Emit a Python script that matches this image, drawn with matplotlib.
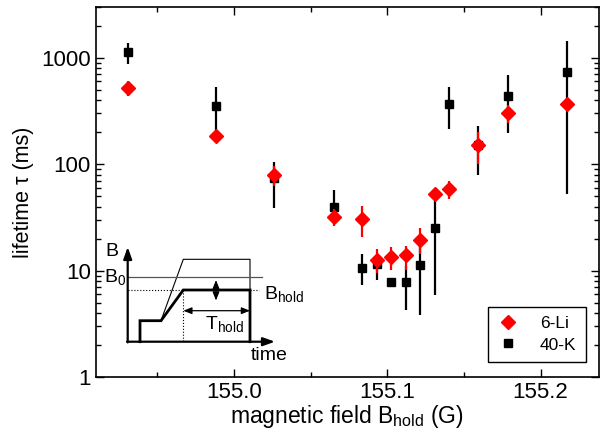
import numpy as np
import matplotlib
matplotlib.use("Agg")
import matplotlib.pyplot as plt
from matplotlib.lines import Line2D
from matplotlib.ticker import LogLocator, FixedLocator, NullFormatter

plt.rcParams['font.family'] = ['Liberation Sans', 'DejaVu Sans']
plt.rcParams['mathtext.fontset'] = 'custom'
plt.rcParams['mathtext.rm'] = 'Liberation Sans'
plt.rcParams['mathtext.it'] = 'Liberation Sans:italic'

# --- datos: 40-K (cuadrados negros) ---
k_field = [154.931, 154.988, 155.026, 155.065, 155.0835, 155.093, 155.1025,
           155.112, 155.1215, 155.131, 155.1405, 155.1595, 155.179, 155.217]
k_tau = [1130, 355, 74, 40, 10.7, 11.6, 7.9, 7.9, 11.4, 25.3, 368, 152, 441, 743]
k_lo = [880, 172, 39, 28, 7.3, 8.2, 7.9, 4.3, 3.85, 5.9, 214, 79, 196, 53]
k_hi = [1376, 537, 106, 57, 14.2, 13.6, 7.9, 11, 17, 55, 530, 230, 692, 1426]

# --- datos: 6-Li (diamantes rojos) ---
li_field = [154.931, 154.988, 155.026, 155.065, 155.0835, 155.093, 155.1025,
            155.112, 155.1215, 155.131, 155.1405, 155.1595, 155.179, 155.217]
li_tau = [521, 185, 79, 32, 30.7, 12.7, 13.5, 13.9, 19.6, 52, 59, 152, 303, 366]
li_lo = [435, 162, 62, 26, 20.8, 9.5, 10.2, 10.2, 14.2, 46.6, 47, 100, 244, 366]
li_hi = [611, 206, 96, 38, 40.4, 16, 16.7, 17, 25.3, 58, 69.4, 201, 360, 366]


def asym(y, lo, hi):
    y = np.array(y)
    return [y - np.array(lo), np.array(hi) - y]


fig = plt.figure(figsize=(6, 4.4), dpi=100)
ax = fig.add_axes([0.1595, 0.143, 0.8385, 0.841])

ax.errorbar(k_field, k_tau, yerr=asym(k_tau, k_lo, k_hi), fmt='s', color='black',
            ms=6, elinewidth=1.6, capsize=0, zorder=2)
ax.errorbar(li_field, li_tau, yerr=asym(li_tau, li_lo, li_hi), fmt='D', color='red',
            ms=7, elinewidth=1.6, capsize=0, zorder=3)

ax.set_yscale('log')
ax.set_ylim(1, 3000)
ax.set_xlim(154.9098, 155.238)
ax.xaxis.set_major_locator(FixedLocator([155.0, 155.1, 155.2]))
ax.xaxis.set_minor_locator(FixedLocator([154.95, 155.05, 155.15]))
ax.set_xticklabels(['155.0', '155.1', '155.2'])
ax.yaxis.set_minor_locator(LogLocator(base=10, subs=np.arange(2, 10), numticks=10))
ax.yaxis.set_minor_formatter(NullFormatter())
ax.set_yticks([1, 10, 100, 1000])
ax.set_yticklabels(['1', '10', '100', '1000'])

ax.tick_params(which='both', direction='in', top=True, right=True, labelsize=16, width=1)
ax.tick_params(which='major', length=6)
ax.tick_params(which='minor', length=3.5)
for s in ax.spines.values():
    s.set_linewidth(1.2)

ax.set_xlabel(r'magnetic field B$_{\rm hold}$ (G)', fontsize=16.5, labelpad=0)
ax.set_ylabel('lifetime τ (ms)', fontsize=15.5, labelpad=5)

handles = [Line2D([], [], marker='D', color='red', ls='none', ms=7),
           Line2D([], [], marker='s', color='black', ls='none', ms=6)]
leg = ax.legend(handles, ['6-Li', '40-K'], loc='lower right', fontsize=12.5,
                frameon=True, fancybox=False, edgecolor='black', framealpha=1,
                borderpad=0.55, handletextpad=1.2, handlelength=1.2,
                labelspacing=0.35, borderaxespad=0,
                bbox_to_anchor=(0.974, 0.0405))
leg.get_frame().set_linewidth(1.0)

# --- esquema del pulso (inset), en coordenadas de pixel de la figura ---
ov = fig.add_axes([0, 0, 1, 1], zorder=5)
ov.set_xlim(0, 600)
ov.set_ylim(440, 0)
ov.axis('off')
ov.patch.set_alpha(0)

x0, y0 = 127.7, 341.7
ov.annotate('', xy=(x0, 247), xytext=(x0, y0 + 0.7),
            arrowprops=dict(arrowstyle='-|>,head_width=0.25,head_length=0.7', color='black', lw=1.6,
                            shrinkA=0, shrinkB=0))
ov.annotate('', xy=(275, y0), xytext=(x0 - 0.7, y0),
            arrowprops=dict(arrowstyle='-|>,head_width=0.25,head_length=0.7', color='black', lw=1.6,
                            shrinkA=0, shrinkB=0))

pulse_x = [140, 140, 161, 183.3, 250, 250]
pulse_y = [y0, 320.7, 320.7, 290, 290, y0]
ov.plot(pulse_x, pulse_y, color='black', lw=2.0, solid_joinstyle='miter')
thin_x = [161, 183.3, 250, 250]
thin_y = [320.7, 259.3, 259.3, 290]
ov.plot(thin_x, thin_y, color='black', lw=0.8)
ov.plot([x0, 262], [276.7, 276.7], color='#555555', lw=0.9)
ov.plot([x0, 183.3], [290, 290], color='black', lw=0.8, ls=':')
ov.plot([250, 259], [290, 290], color='black', lw=0.8, ls=':')
ov.plot([183.3, 183.3], [290, y0], color='black', lw=0.8, ls=':')
ov.annotate('', xy=(216, 280), xytext=(216, 300.5),
            arrowprops=dict(arrowstyle='<|-|>,head_width=0.2,head_length=0.5', color='black', lw=0.9,
                            shrinkA=0, shrinkB=0))
ov.annotate('', xy=(183.3, 310.7), xytext=(250, 310.7),
            arrowprops=dict(arrowstyle='<|-|>,head_width=0.2,head_length=0.5', color='black', lw=0.9,
                            shrinkA=0, shrinkB=0))

ov.text(112, 251, 'B', fontsize=14, ha='center', va='center')
ov.text(104, 277, r'B$_0$', fontsize=14, ha='left', va='center')
ov.text(264, 294, r'B$_{\rm hold}$', fontsize=14, ha='left', va='center')
ov.text(205, 324, r'T$_{\rm hold}$', fontsize=14, ha='left', va='center')
ov.text(251, 355, 'time', fontsize=14, ha='left', va='center')

fig.savefig('out.png', dpi=100)
